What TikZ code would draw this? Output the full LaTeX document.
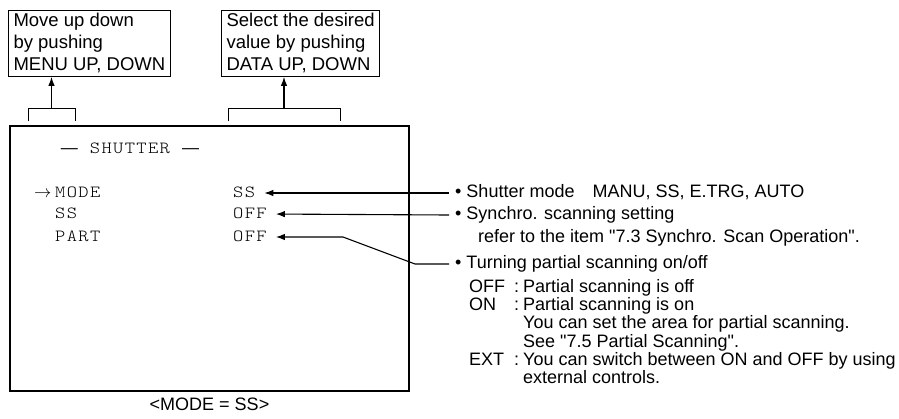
\documentclass[tikz,border=0pt]{standalone}
\usepackage{fontspec}
\setmainfont{Liberation Sans}[Ligatures=TeXOff]
\newfontfamily\scrfam{lmmonolt10-regular.otf}[FakeStretch=1.15,LetterSpace=8]
\usetikzlibrary{arrows.meta,positioning}

\newcommand{\scrfont}{\fontsize{17}{18}\selectfont\scrfam}
\newcommand{\notefont}{\fontsize{18}{20}\selectfont}
\newcommand{\listfont}{\fontsize{18}{17.5}\selectfont}
\newcommand{\boxfont}{\fontsize{18.5}{22}\selectfont}

\begin{document}
\begin{tikzpicture}
                [
                    x=1pt, y=-1pt,
                    hintbox/.style={draw, line width=1.1pt, align=left, font=\boxfont, inner xsep=5pt, inner ysep=3pt, anchor=north west},
                    screenbox/.style={draw, line width=2pt, minimum width=399pt, minimum height=265pt, anchor=north west, inner sep=0pt},
                    menutext/.style={font=\scrfont, anchor=west, inner sep=0pt, text height=11pt, text depth=3pt},
                    note/.style={font=\notefont, anchor=west, inner ysep=0pt, inner xsep=6pt, text height=12.5pt, text depth=4pt},
                    ptr/.style={line width=1.1pt, -{Latex[length=9pt,width=6.5pt]}},
                    brace/.style={line width=0.9pt}
                ]

                \useasboundingbox (0,0) rectangle (899,418);

                \node [hintbox] (menubox) at (8,10) {Move up down\\by pushing\\MENU UP, DOWN};
                \node [hintbox] (databox) at (221,10) {Select the desired\\value by pushing\\DATA UP, DOWN};
                \node [screenbox] (screen) at (9,125) {};
                \node [font=\notefont, inner sep=0pt] (caption) [below=6pt of screen] {<MODE = SS>};

                \coordinate (menumid) at (51.5,108);
                \coordinate (datamid) at (284,108);
                \draw [brace] (28,121) |- (75,108) -- (75,121);
                \draw [brace] (228,121) |- (340,108) -- (340,121);
                \draw [ptr] (menumid) -- (menumid |- menubox.south);
                \draw [ptr] (datamid) -- (datamid |- databox.south);

                \node [menutext, anchor=center] (title) at (130,149) {{\rmfamily\fontsize{17}{18}\selectfont—}\hspace{12pt}SHUTTER\hspace{12pt}{\rmfamily\fontsize{17}{18}\selectfont—}};
                \node [menutext] (cursor) at (34,193) {$\rightarrow$};
                \node [menutext] (lmode) at (55,193) {MODE};
                \node [menutext] (lss) at (55,214) {SS};
                \node [menutext] (lpart) at (55,237) {PART};
                \node [menutext] (vmode) at (233,193) {SS};
                \node [menutext] (vss) at (233,214) {OFF};
                \node [menutext] (vpart) at (233,237) {OFF};

                \node [note] (shutnote) at (449,193) {•~Shutter mode\hspace{18pt}MANU, SS, E.TRG, AUTO};
                \node [note] (syncnote) at (449,215) {•~Synchro. scanning setting};
                \node [note, inner xsep=0pt] (syncref) at (478,238) {refer to the item "7.3 Synchro. Scan Operation".};
                \node [note] (partnote) at (449,264) {•~Turning partial scanning on/off};
                \node [font=\listfont, anchor=north west, inner sep=0pt] (partlist) at (469,279) {%
                    \begin{tabular}{@{}p{45pt}@{}p{9pt}@{}l@{}}
                        OFF & : & Partial scanning is off\\
                        ON  & : & Partial scanning is on\\
                            &   & You can set the area for partial scanning.\\
                            &   & See "7.5 Partial Scanning".\\
                        EXT & : & You can switch between ON and OFF by using\\
                            &   & external controls.
                    \end{tabular}};

                \coordinate (kinkr) at (415,264);
                \coordinate (kinkl) at (343,237);
                \draw [ptr, shorten >=9pt] (shutnote.west) -- (vmode.east);
                \draw [ptr, shorten >=9pt] (syncnote.west) -- (vss.east);
                \draw [ptr, shorten >=9pt] (partnote.west) -- (kinkr) -- (kinkl) -- (vpart.east);

            \end{tikzpicture}
\end{document}
